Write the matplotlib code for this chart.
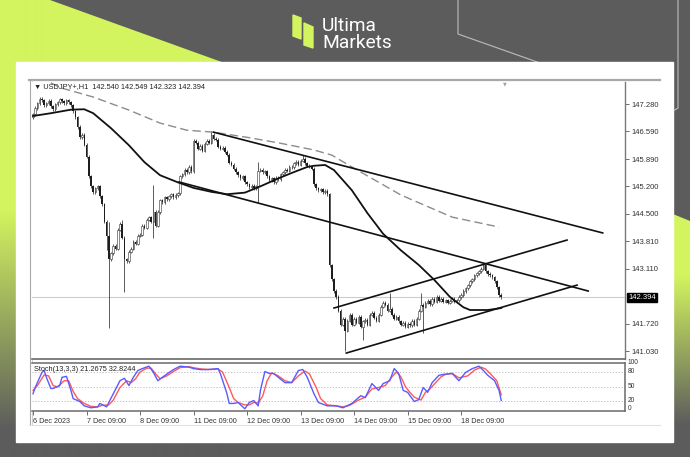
import numpy as np
import matplotlib.pyplot as plt
from matplotlib.patches import Rectangle, Polygon
from matplotlib.colors import to_rgb

# --- data (H1 bars, index 0 = first bar on 6 Dec) ---
first_open = 146.95
closes = [
    147.02, 147.18, 147.30, 147.42, 147.38, 147.25, 147.30, 147.36, 147.22, 147.15,
    147.28, 147.33, 147.40, 147.35, 147.30, 147.38, 147.33, 147.25, 147.10, 146.95,
    146.70, 146.45, 146.50, 146.25, 145.95, 145.45, 145.20, 145.05, 145.15, 145.20,
    144.95, 144.75, 144.30, 143.95, 143.35, 143.50, 143.70, 143.62, 144.10, 144.25,
    143.90, 143.35, 143.30, 143.55, 143.62, 143.80, 143.75, 143.95, 143.98, 144.20,
    144.15, 144.35, 144.42, 144.30, 144.55, 144.20, 144.55, 144.85, 144.80, 144.92,
    144.88, 144.95, 145.00, 144.93, 144.98, 145.02, 145.45, 145.50, 145.62, 145.55,
    145.70, 145.58, 146.35, 146.30, 146.15, 146.22, 146.10, 146.28, 146.35, 146.30,
    146.50, 146.40, 146.38, 146.20, 146.15, 146.18, 146.08, 146.00, 145.80, 145.75,
    145.65, 145.55, 145.48, 145.40, 145.45, 145.30, 145.25, 145.18, 145.22, 145.15,
    145.20, 145.60, 145.62, 145.55, 145.58, 145.45, 145.35, 145.40, 145.30, 145.42,
    145.38, 145.50, 145.55, 145.62, 145.60, 145.70, 145.68, 145.78, 145.82, 145.75,
    145.85, 145.90, 145.78, 145.72, 145.70, 145.65, 145.25, 145.15, 145.10, 145.12,
    145.05, 145.08, 145.00, 143.20, 142.85, 142.55, 142.40, 142.05, 141.70, 141.85,
    141.55, 141.80, 141.95, 141.70, 141.85, 141.75, 141.90, 141.65, 141.78, 141.82,
    141.70, 141.95, 142.00, 141.88, 141.80, 141.95, 142.15, 142.25, 142.20, 142.05,
    142.10, 141.95, 141.85, 141.90, 141.78, 141.70, 141.75, 141.65, 141.72, 141.68,
    141.80, 141.70, 141.85, 142.05, 142.20, 142.15, 142.25, 142.30, 142.22, 142.35,
    142.28, 142.40, 142.30, 142.35, 142.28, 142.32, 142.25, 142.30, 142.35, 142.28,
    142.32, 142.40, 142.45, 142.55, 142.62, 142.70, 142.80, 142.85, 142.95, 143.00,
    143.05, 143.12, 143.20, 143.05, 142.98, 142.95, 142.90, 142.80, 142.65, 142.45,
    142.394]

# long wicks that stand out
wick_high = {34: 144.30, 40: 144.35, 54: 145.23, 80: 146.60, 101: 145.82,
             121: 145.98, 160: 142.50, 174: 142.50, 202: 143.25}
wick_low = {33: 143.60, 34: 141.61, 41: 142.52, 54: 143.90, 101: 144.78,
            140: 141.02, 148: 141.31, 175: 141.50}

ma_fast_bars = [0, 8, 17, 23, 27, 35, 43, 50, 57, 65, 72, 80, 87, 95, 102, 110,
                117, 123, 126, 131, 135, 143, 150, 157, 165, 173, 180, 187, 193, 196, 204, 210]
ma_fast = [146.98, 147.05, 147.14, 147.15, 147.05, 146.67, 146.24, 145.81, 145.48, 145.30,
           145.16, 145.06, 145.00, 145.04, 145.20, 145.40, 145.56, 145.69, 145.72, 145.74,
           145.61, 145.10, 144.52, 144.00, 143.58, 143.21, 142.83, 142.40, 142.14, 142.07,
           142.07, 142.12]

ma_slow_bars = [8, 12, 27, 43, 57, 69, 81, 96, 111, 126, 134, 143, 165, 188, 209]
ma_slow = [147.82, 147.70, 147.46, 147.13, 146.80, 146.62, 146.57, 146.44, 146.29, 146.12,
           145.99, 145.69, 144.98, 144.42, 144.17]

trend_lines = [((81, 146.57), (255.5, 144.02)),
               ((65.5, 145.31), (249, 142.55)),
               ((135, 142.12), (239.5, 143.84)),
               ((140.5, 140.98), (244, 142.70))]

k_bars = [0, 1, 4, 5, 6, 8, 9, 12, 13, 15, 17, 18, 21, 23, 26, 29, 30, 33, 34, 36,
          39, 41, 43, 45, 47, 49, 52, 54, 56, 58, 61, 63, 66, 70, 72, 75, 78, 83, 84, 87,
          88, 90, 92, 95, 97, 99, 101, 102, 104, 106, 108, 110, 113, 116, 119, 121, 123, 126, 128, 132,
          136, 139, 143, 147, 149, 152, 155, 157, 160, 162, 164, 166, 168, 171, 173, 175, 177, 179, 182, 184,
          188, 191, 194, 197, 200, 202, 204, 207, 209, 210]
k_vals = [35, 48, 79, 83, 69, 46, 46, 52, 69, 71, 42, 25, 19, 10, 6, 8, 15, 8, 17, 35,
          62, 67, 52, 69, 83, 87, 92, 79, 62, 69, 79, 85, 92, 90, 87, 85, 85, 87, 77, 35,
          15, 15, 17, 4, 17, 21, 10, 42, 81, 77, 77, 69, 58, 58, 83, 85, 69, 35, 17, 10,
          10, 6, 15, 31, 27, 56, 42, 56, 62, 87, 77, 42, 38, 19, 23, 48, 38, 58, 73, 75,
          77, 62, 79, 87, 92, 83, 73, 62, 42, 21.27]

d_bars = [0, 2, 5, 7, 9, 11, 14, 16, 18, 20, 23, 26, 29, 31, 34, 36, 39, 42, 44, 46,
          48, 51, 53, 55, 57, 60, 63, 66, 70, 73, 76, 79, 83, 85, 88, 90, 92, 95, 97, 99,
          101, 103, 105, 107, 110, 113, 116, 119, 122, 124, 127, 129, 132, 136, 139, 142, 146, 149, 152, 155,
          158, 161, 163, 165, 167, 169, 171, 174, 176, 178, 180, 183, 185, 188, 191, 195, 198, 201, 203, 205,
          208, 210]
d_vals = [42, 52, 74, 72, 52, 49, 62, 62, 40, 25, 15, 9, 8, 11, 12, 22, 48, 62, 58, 66,
          80, 88, 88, 76, 66, 72, 81, 89, 91, 88, 86, 85, 86, 80, 48, 25, 17, 12, 12, 17,
          16, 30, 62, 78, 72, 62, 58, 72, 82, 76, 48, 25, 12, 10, 8, 11, 22, 28, 45, 48,
          52, 70, 80, 70, 50, 38, 28, 22, 38, 45, 55, 70, 75, 77, 68, 72, 84, 90, 86, 77,
          62, 32.82]

price_ticks = [147.280, 146.590, 145.890, 145.200, 144.500, 143.810, 143.110, 141.720, 141.030]
last_price = 142.394
day_bars = [0, 24, 48, 72, 96, 120, 144, 168, 192]
day_labels = ['6 Dec 2023', '7 Dec 09:00', '8 Dec 09:00', '11 Dec 09:00', '12 Dec 09:00',
              '13 Dec 09:00', '14 Dec 09:00', '15 Dec 09:00', '18 Dec 09:00']

# --- figure / branded background ---
W, H = 690, 457
fig = plt.figure(figsize=(6.9, 4.57), dpi=100)


def px_axes(x0, y0, x1, y1):
    return fig.add_axes([x0 / W, 1 - y1 / H, (x1 - x0) / W, (y1 - y0) / H])


GREY = '#5c5c5c'
LIME = '#d3f45f'

bg = fig.add_axes([0, 0, 1, 1])
bg.add_patch(Rectangle((0, 0), W, H, color=GREY, zorder=0))


def gradient(y_full, y_grey):
    ys = np.arange(H) + 0.5
    t = np.clip((ys - y_full) / (y_grey - y_full), 0, 1)[:, None, None]
    return (1 - t) * np.array(to_rgb(LIME)) + t * np.array(to_rgb(GREY))


for grad, pts in [((210, 430), [(0, 0), (50, 0), (230, 65), (230, H), (0, H)]),
                  ((275, 425), [(668, 212), (690, 221), (690, H), (668, H)])]:
    img = bg.imshow(gradient(*grad), extent=(0, W, H, 0), aspect='auto',
                    interpolation='bilinear', zorder=1)
    clip = Polygon(pts, closed=True, facecolor='none', edgecolor='none')
    bg.add_patch(clip)
    img.set_clip_path(clip)

bg.plot([458, 458, 540], [0, 34, 63], color='#bdbdbd', lw=0.8, zorder=2)
bg.plot([678, 678, 673], [0, 108, 111], color='#bdbdbd', lw=0.8, zorder=2)

# logo
bg.add_patch(Polygon([(293, 15), (301, 18), (301, 39), (293, 36)], color=LIME, zorder=4))
bg.add_patch(Polygon([(304, 23), (313, 27), (313, 48), (304, 45)], color=LIME, zorder=4))
bg.text(322, 31, 'Ultima', color='white', fontsize=13.8, family='Roboto', va='baseline', zorder=4)
bg.text(322, 47.5, 'Markets', color='white', fontsize=13.8, family='Roboto', va='baseline', zorder=4)

# white card + terminal window frame
bg.add_patch(Rectangle((16, 62), 657, 380, color='white', zorder=3))
bg.plot([29, 660], [80, 80], color='#a8a8a8', lw=1.6, zorder=4)
bg.plot([29.5, 29.5], [80, 424], color='#a8a8a8', lw=0.8, zorder=4)
bg.plot([31.5, 31.5], [80, 424], color='#c8c8c8', lw=0.6, zorder=4)
bg.plot([29, 660], [424.5, 424.5], color='#e0e0e0', lw=0.8, zorder=4)

bg.set_xlim(0, W)
bg.set_ylim(H, 0)
bg.axis('off')

# --- price panel ---
XLIM = (-0.45, 265.5)
ax = px_axes(32, 82, 625, 359)
ax.set_xlim(*XLIM)
ax.set_ylim(140.83, 147.84)

n = len(closes)
opens = [first_open] + closes[:-1]
for i in range(n):
    o, c = opens[i], closes[i]
    hi = wick_high.get(i, max(o, c) + 0.04)
    lo = wick_low.get(i, min(o, c) - 0.04)
    ax.vlines(i, lo, hi, color='#404040', lw=0.6, zorder=2)
    body = max(abs(c - o), 0.015)
    if c >= o:
        ax.bar(i, body, bottom=min(o, c), width=0.7, facecolor='white',
               edgecolor='#303030', lw=0.4, zorder=2)
    else:
        ax.bar(i, body, bottom=min(o, c), width=0.7, color='#1e1e1e', lw=0, zorder=2)

ax.axhline(last_price, color='#cccccc', lw=0.8, zorder=1)
ax.plot(ma_slow_bars, ma_slow, color='#8c8c8c', lw=1.0, dashes=(6, 3), zorder=3)
ax.plot(ma_fast_bars, ma_fast, color='#111111', lw=1.3, zorder=3)
for (x0, y0), (x1, y1) in trend_lines:
    ax.plot([x0, x1], [y0, y1], color='#111111', lw=1.2, zorder=4)

ax.yaxis.tick_right()
ax.set_yticks(price_ticks)
ax.set_yticklabels([f'{p:.3f}' for p in price_ticks], family='Liberation Sans', fontsize=5.5)
ax.tick_params(axis='y', length=3, width=0.6, pad=2, colors='#555555')
ax.set_xticks([])
for lbl in ax.get_yticklabels():
    lbl.set_color('#333333')
ax.text(1.006, last_price, f'{last_price:.3f}', transform=ax.get_yaxis_transform(),
        family='Liberation Sans', fontsize=5.5, color='white', va='center', ha='left',
        bbox=dict(boxstyle='square,pad=0.15', fc='black', ec='black'))
ax.text(0.004, 0.982, '\u25bc USDJPY+,H1  142.540 142.549 142.323 142.394', transform=ax.transAxes,
        family=['Liberation Sans', 'DejaVu Sans'], fontsize=5.3, color='#222222', va='center')
ax.text(0.798, 0.993, '\u25bc', transform=ax.transAxes, fontsize=3.5, color='#a0a0a0',
        ha='center', va='center', family='DejaVu Sans')
for side in ['left', 'top']:
    ax.spines[side].set_visible(False)
ax.spines['right'].set_color('#7a7a7a')
ax.spines['right'].set_linewidth(1.0)
ax.spines['bottom'].set_color('#6a6a6a')
ax.spines['bottom'].set_linewidth(1.2)

# --- stochastic panel ---
st = px_axes(32, 363, 625, 411)
st.set_xlim(*XLIM)
st.set_ylim(-0.6, 98.6)
for lvl in [20, 50, 80]:
    st.axhline(lvl, color='#b5b5b5', lw=0.6, ls=(0, (1.5, 2)), zorder=1)
st.plot(d_bars, d_vals, color='#ff5a5a', lw=1.0, zorder=2)
st.plot(k_bars, k_vals, color='#5a5aff', lw=1.0, zorder=3)
st.set_yticks([])
st.set_xticks(day_bars)
st.set_xticklabels(day_labels, family='Liberation Sans', fontsize=5.2)
for lbl in st.get_xticklabels():
    lbl.set_ha('left')
    lbl.set_color('#333333')
st.tick_params(axis='x', length=3, width=0.6, pad=2, colors='#555555')
for lbl in st.get_xticklabels():
    lbl.set_color('#333333')
for txt, val in [('100', 99), ('80', 81), ('50', 50), ('20', 22), ('0', 4)]:
    st.text(1.004, val, txt, transform=st.get_yaxis_transform(), family='Liberation Sans',
            fontsize=4.8, color='#333333', va='center', ha='left')
st.text(0.004, 0.86, 'Stoch(13,3,3) 21.2675 32.8244', transform=st.transAxes,
        family='Liberation Sans', fontsize=5.3, color='#222222', va='center')
st.spines['left'].set_visible(False)
for side in ['right', 'top', 'bottom']:
    st.spines[side].set_color('#6a6a6a')
    st.spines[side].set_linewidth(1.1)

fig.savefig('out.png', dpi=100)
